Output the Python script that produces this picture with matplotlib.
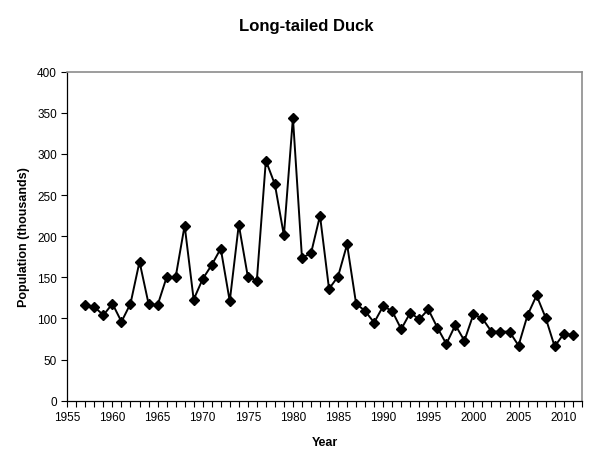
import matplotlib
matplotlib.use("Agg")
import matplotlib.pyplot as plt
from matplotlib.ticker import MultipleLocator, FuncFormatter

plt.rcParams.update({
    "font.family": ["Liberation Sans", "DejaVu Sans"],
    "font.size": 8.5,
})

# Long-tailed Duck population, thousands
years = list(range(1957, 2012))
population = [
    116, 114, 104, 118, 96, 118, 169, 118, 116, 150,
    150, 213, 123, 148, 165, 185, 121, 214, 151, 146,
    292, 263, 201, 344, 174, 179, 225, 136, 151, 190,
    118, 109, 95, 115, 109, 87, 107, 99, 111, 89,
    69, 92, 73, 105, 100, 84, 84, 84, 67, 104,
    128, 101, 66, 81, 80,
]

fig = plt.figure(figsize=(5.89, 4.60), dpi=100)
ax = fig.add_axes([0.1143, 0.1267, 0.8733, 0.7153])

ax.plot(years, population, color="black", linewidth=1.4,
        marker="D", markersize=5, markerfacecolor="black",
        markeredgecolor="black")

ax.set_xlim(1955, 2012)
ax.set_ylim(0, 400)
ax.xaxis.set_major_locator(MultipleLocator(1))
ax.xaxis.set_major_formatter(FuncFormatter(lambda v, p: f"{int(round(v))}" if round(v) % 5 == 0 else ""))
ax.yaxis.set_major_locator(MultipleLocator(50))

ax.tick_params(axis="both", direction="out", length=4.5, width=0.8,
               color="black", labelsize=8.5, pad=3)

for side in ["left", "bottom"]:
    ax.spines[side].set_color("black")
    ax.spines[side].set_linewidth(0.9)
for side in ["top", "right"]:
    ax.spines[side].set_color("#8c8c8c")
    ax.spines[side].set_linewidth(1.2)

ax.set_xlabel("Year", fontweight="bold", fontsize=9, labelpad=9)
ax.set_ylabel("Population (thousands)", fontweight="bold", fontsize=9, labelpad=5)
fig.suptitle("Long-tailed Duck", fontweight="bold", fontsize=12, x=0.52, y=0.958)

fig.savefig("out.png", dpi=100)
